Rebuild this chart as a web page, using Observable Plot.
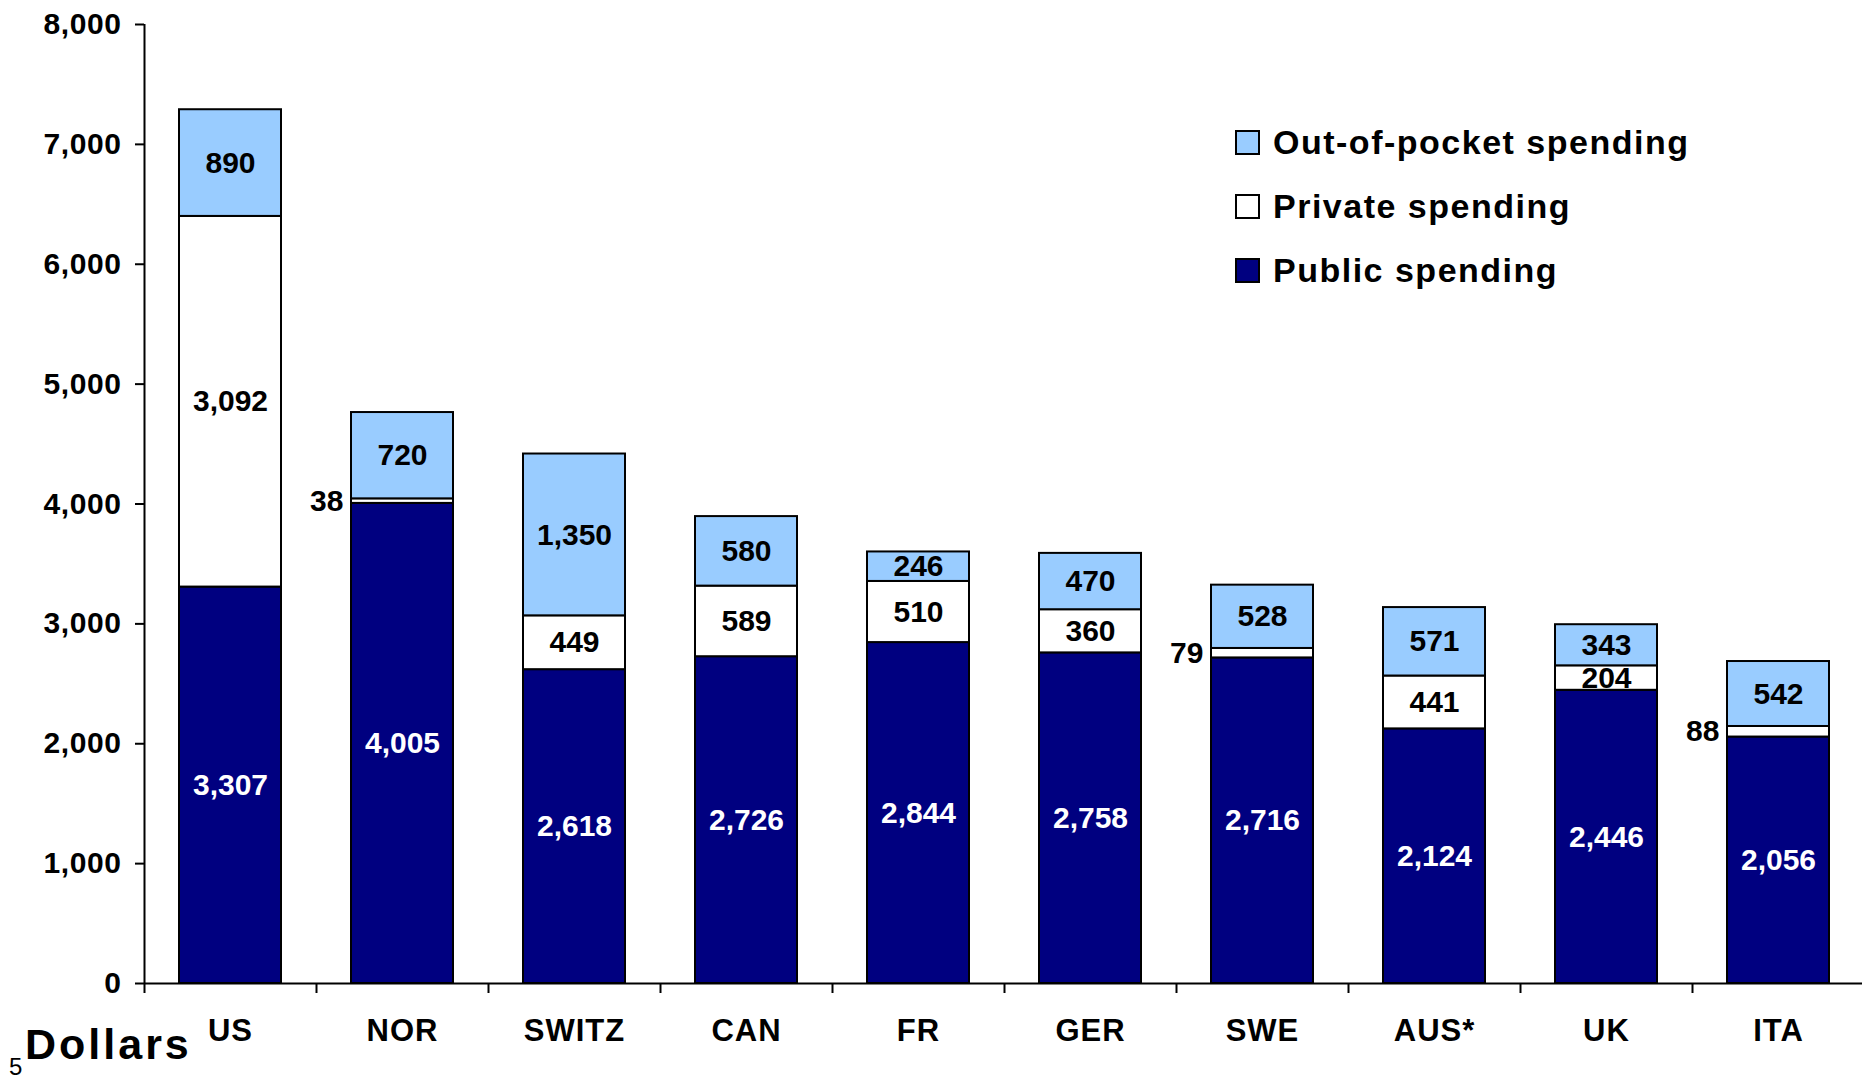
<!DOCTYPE html>
<html>
<head>
<meta charset="utf-8">
<script src="https://cdn.jsdelivr.net/npm/d3@7"></script>
<script src="https://cdn.jsdelivr.net/npm/@observablehq/plot@0.6"></script>
<style>
  html, body { margin: 0; padding: 0; background: #fff; }
  #wrap { position: relative; width: 1862px; height: 1079px; overflow: hidden; font-family: "Liberation Sans", Arial, sans-serif; }
  #legend { position: absolute; left: 1235px; top: 110px; }
  .row { display: flex; align-items: center; height: 64px; }
  .sw { width: 21px; height: 21px; border: 2px solid #000; box-sizing: content-box; margin-right: 13px; }
  .lt { font-size: 34px; font-weight: bold; color: #000; white-space: nowrap; letter-spacing: 1.5px; }
  #dollars { position: absolute; left: 25px; top: 1023px; font-size: 43px; font-weight: bold; line-height: 1; letter-spacing: 3px; }
  #pagenum { position: absolute; left: 9px; top: 1055px; font-size: 24px; line-height: 1; }
</style>
</head>
<body>
<div id="wrap">
  <div id="chart"></div>
  <div id="legend"></div>
  <div id="dollars">Dollars</div>
  <div id="pagenum">5</div>
</div>
<script>
const countries = ["US", "NOR", "SWITZ", "CAN", "FR", "GER", "SWE", "AUS*", "UK", "ITA"];
const publicSpending = [3307, 4005, 2618, 2726, 2844, 2758, 2716, 2124, 2446, 2056];
const privateSpending = [3092, 38, 449, 589, 510, 360, 79, 441, 204, 88];
const oopSpending = [890, 720, 1350, 580, 246, 470, 528, 571, 343, 542];
const seriesNames = ["Public spending", "Private spending", "Out-of-pocket spending"];
const seriesColors = ["#000080", "#ffffff", "#99ccff"];
const yTicks = [0, 1000, 2000, 3000, 4000, 5000, 6000, 7000, 8000];
const legendOrder = ["Out-of-pocket spending", "Private spending", "Public spending"];

const seriesValues = [publicSpending, privateSpending, oopSpending];
const rows = [];
countries.forEach((c, i) => {
  let base = 0;
  seriesNames.forEach((s, k) => {
    const v = seriesValues[k][i];
    rows.push({country: c, series: s, value: v, mid: base + v / 2});
    base += v;
  });
});
const inside = rows.filter(d => !(d.series === "Private spending" && d.value < 100));
const outside = rows.filter(d => d.series === "Private spending" && d.value < 100);

const W = 1862, H = 1079, ML = 144, MR = -2, MT = 24, MB = 96;
const step = (W - ML - MR) / countries.length;
const bw = step * 0.595;
const fmt = d3.format(",");

const chart = Plot.plot({
  width: W, height: H,
  marginLeft: ML, marginRight: MR, marginTop: MT, marginBottom: MB,
  style: {fontFamily: "'Liberation Sans', Arial, sans-serif", fontWeight: "bold", fontSize: "30px", color: "#000", background: "#fff", overflow: "visible"},
  x: {domain: countries, paddingInner: 0.405, paddingOuter: 0.2, axis: null, label: null},
  y: {domain: [0, 8000], axis: null, label: null},
  color: {domain: seriesNames, range: seriesColors},
  marks: [
    Plot.barY(rows, {x: "country", y: "value", fill: "series", stroke: "#000", strokeWidth: 2, order: seriesNames}),
    Plot.ruleY([0], {stroke: "#000", strokeWidth: 2}),
    Plot.ruleX([countries[0]], {dx: -step / 2, stroke: "#000", strokeWidth: 2, insetBottom: -10}),
    Plot.ruleX(countries, {x: d => d, dx: step / 2, y1: 0, y2: 0, insetBottom: -10, stroke: "#000", strokeWidth: 2}),
    Plot.axisY({ticks: yTicks, tickFormat: fmt, tickSize: 9, tickPadding: 14, fontSize: 30, fontWeight: "bold", stroke: "#000", strokeWidth: 2, label: null}),
    Plot.axisX({tickSize: 0, tickPadding: 35, fontSize: 31, fontWeight: "bold", label: null}),
    Plot.text(inside, {x: "country", y: "mid", text: d => fmt(d.value), fill: d => d.series === "Public spending" ? "#fff" : "#000", fontSize: 30, fontWeight: "bold"}),
    Plot.text(outside, {x: "country", y: "mid", text: d => fmt(d.value), dx: -(bw / 2 + 8), textAnchor: "end", fill: "#000", fontSize: 30, fontWeight: "bold"})
  ]
});
d3.select(chart).selectAll('g[aria-label="y-axis tick label"] text').attr("letter-spacing", "0.6px");
d3.select(chart).selectAll('g[aria-label="x-axis tick label"] text').attr("letter-spacing", "1px");
document.getElementById("chart").appendChild(chart);

const legend = document.getElementById("legend");
legendOrder.forEach(name => {
  const row = document.createElement("div");
  row.className = "row";
  const sw = document.createElement("div");
  sw.className = "sw";
  sw.style.background = seriesColors[seriesNames.indexOf(name)];
  const lt = document.createElement("div");
  lt.className = "lt";
  lt.textContent = name;
  row.appendChild(sw);
  row.appendChild(lt);
  legend.appendChild(row);
});
</script>
</body>
</html>
